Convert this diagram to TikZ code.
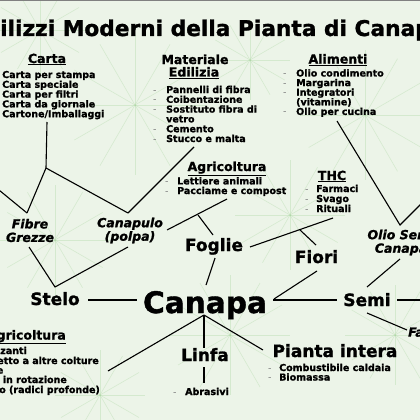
\documentclass[tikz,border=0pt]{standalone}
\usepackage{fontspec}
\setmainfont{DejaVu Sans}[BoldFeatures={FakeBold=1.3},BoldItalicFeatures={FakeBold=1.3}]
\definecolor{bgc}{RGB}{236,244,232}
\definecolor{leafc}{RGB}{170,215,160}
\begin{document}
\begin{tikzpicture}[x=1pt,y=-1pt,
  conn/.style={line width=1.1pt, black},
  item/.style={font=\fontsize{9.5}{9.8}\selectfont\bfseries, inner sep=0, anchor=base west},
  dsh/.style={font=\fontsize{9.5}{9.8}\selectfont, text=gray, inner sep=0, anchor=base west},
  head/.style={font=\fontsize{12.5}{13}\selectfont\bfseries, inner sep=0, anchor=base},
  big/.style={font=\fontsize{17}{18}\selectfont\bfseries, inner sep=0, anchor=base},
  ital/.style={font=\fontsize{12.5}{13.5}\selectfont\bfseries\itshape, inner sep=0, align=center},
  leaf/.style={leafc, line width=0.6pt, opacity=0.35}
]
\useasboundingbox (0,0) rectangle (420,420);
\clip (0,0) rectangle (420,420);
\fill[bgc] (0,0) rectangle (420,420);
% faint hemp-leaf background
\foreach \cx/\cy/\r in {135/105/70, 365/115/65, 290/215/55, 230/335/60, 55/240/55, 395/335/50, 40/30/45, 250/60/40, 100/395/45} {
  \foreach \a in {0,30,...,330} {
    \draw[leaf] (\cx,\cy) -- ++(\a:\r);
  }
}
\draw[gray, line width=1.5pt] (0,0.6) -- (420,0.6);

% title
\node[font=\fontsize{21.7}{24}\selectfont\bfseries, inner sep=0, anchor=base west] (title) at (-28,36) {Utilizzi Moderni della Pianta di Canapa};

% headers
\node[head] (carta) at (47,63) {\underline{Carta}};
\node[head] (mater) at (195,64) {Materiale};
\node[head] (edil) at (194,76.5) {\underline{Edilizia}};
\node[head] (alim) at (338,63.5) {\underline{Alimenti}};
\node[head] (agri1) at (227,171) {\underline{Agricoltura}};
\node[head] (thc) at (332,180) {\underline{THC}};
\node[head, anchor=base east] (agri2) at (66,339.5) {\underline{Agricoltura}};

% lists
\foreach \t [count=\i] in {Carta per stampa, Carta speciale, Carta per filtri, Carta da giornale, Cartone/Imballaggi} {
  \node[item] (cartai\i) at (2,{68.2+9.8*\i}) {\t};
}
\foreach \t/\d [count=\i] in {Pannelli di fibra/1, Coibentazione/1, Sostituto fibra di/1, vetro/0, Cemento/1, Stucco e malta/1} {
  \node[item] (mati\i) at (166,{83.2+9.8*\i}) {\t};
  \ifnum\d=1 \node[dsh] (matd\i) at (153,{83.2+9.8*\i}) {-}; \fi
}
\foreach \t/\d [count=\i] in {Olio condimento/1, Margarina/1, Integratori/1, {(vitamine)}/0, Olio per cucina/1} {
  \node[item] (alimi\i) at (296,{66.9+9.6*\i}) {\t};
  \ifnum\d=1 \node[dsh] (alimd\i) at (283,{66.9+9.6*\i}) {-}; \fi
}
\foreach \t [count=\i] in {Lettiere animali, Pacciame e compost} {
  \node[item] (agrii\i) at (177,{174.8+9.6*\i}) {\t};
  \node[dsh] (agrid\i) at (165,{174.8+9.6*\i}) {-};
}
\foreach \t [count=\i] in {Farmaci, Svago, Rituali} {
  \node[item] (thci\i) at (316,{182+10*\i}) {\t};
  \node[dsh] (thcd\i) at (305,{182+10*\i}) {-};
}
\foreach \t [count=\i] in {Combustibile caldaia, Biomassa} {
  \node[item] (piai\i) at (279,{361.5+9.5*\i}) {\t};
  \node[dsh] (piad\i) at (268,{361.5+9.5*\i}) {-};
}
\node[item] (abr) at (185,395) {Abrasivi};
\node[dsh] (abrd) at (173,395) {-};
\node[item, anchor=base east] (ag1) at (27,354) {Fertilizzanti};
\node[item, anchor=base east] (ag2) at (99,364) {Rispetto a altre colture};
\node[item, anchor=base east] (ag3) at (3.5,373.5) {Rinnovabile};
\node[item, anchor=base east] (ag4) at (67,383) {Coltivabile in rotazione};
\node[item, anchor=base east] (ag5) at (100,393) {Migliora il suolo (radici profonde)};

% main labels
\node[font=\fontsize{29.6}{32}\selectfont\bfseries, inner sep=0, anchor=base] (canapa) at (205,313) {Canapa};
\node[big] (stelo) at (55,305) {Stelo};
\node[big] (semi) at (367,306) {Semi};
\node[big] (foglie) at (214,251) {Foglie};
\node[big] (fiori) at (316.5,263) {Fiori};
\node[big] (linfa) at (205,361) {Linfa};
\node[big] (pianta) at (335,357) {Pianta intera};
\node[ital] (fibre) at (30,230.5) {Fibre\\Grezze};
\node[ital] (canapulo) at (130,230.5) {Canapulo\\(polpa)};
\node[ital] (olio) at (401,242.5) {Olio Semi\\Canapa};
\node[ital, anchor=west] (farina) at (408,332) {Farina};

% junction and end coordinates
\coordinate (cartaS) at (47,122);
\coordinate (j1) at (46,168);
\coordinate (fgT) at (27,213);
\coordinate (cpT) at (128,213);
\coordinate (stuccoS) at (194,147);
\coordinate (offL) at (-12,181);
\coordinate (fgB) at (29,247);
\coordinate (cpB) at (128,247);
\coordinate (vStelo) at (55,287);
\coordinate (steloR) at (88,300);
\coordinate (canL) at (137,300);
\coordinate (canR) at (273,300);
\coordinate (semiL) at (337,300);
\coordinate (semiR) at (397,300);
\coordinate (offR) at (430,300);
\coordinate (semiT) at (367,287);
\coordinate (olioB) at (400,259);
\coordinate (alimS) at (337,121);
\coordinate (vOlio) at (400,225);
\coordinate (offR2) at (440,185);
\coordinate (semiB) at (367,313);
\coordinate (farW) at (407,330);
\coordinate (canT) at (206,285);
\coordinate (fogB) at (215,258);
\coordinate (fogT) at (213,235);
\coordinate (j2) at (198,215);
\coordinate (cpR) at (167,230);
\coordinate (pacc) at (227,199);
\coordinate (fogR) at (250,247);
\coordinate (ritu) at (333,218);
\coordinate (j3) at (300,230);
\coordinate (fioT) at (316,245);
\coordinate (canR2) at (274,299);
\coordinate (fioB) at (317,271);
\coordinate (j4) at (204,315);
\coordinate (linT) at (204,348);
\coordinate (agr2E) at (108,371);
\coordinate (piaW) at (263,350);
\coordinate (linB) at (204,367);
\coordinate (abrT) at (204,383);

% connectors
\draw[conn] (cartaS) -- (j1);
\draw[conn] (j1) -- (fgT);
\draw[conn] (j1) -- (cpT);
\draw[conn] (stuccoS) -- (cpT);
\draw[conn] (offL) -- (fgT);
\draw[conn] (fgB) -- (vStelo) -- (cpB);
\draw[conn] (steloR) -- (canL);
\draw[conn] (canR) -- (semiL);
\draw[conn] (semiR) -- (offR);
\draw[conn] (semiT) -- (olioB);
\draw[conn] (alimS) -- (vOlio) -- (offR2);
\draw[conn] (semiB) -- (farW);
\draw[conn] (canT) -- (fogB);
\draw[conn] (fogT) -- (j2);
\draw[conn] (cpR) -- (pacc);
\draw[conn] (fogR) -- (ritu);
\draw[conn] (fioT) -- (j3);
\draw[conn] (canR2) -- (fioB);
\draw[conn] (j4) -- (linT);
\draw[conn] (j4) -- (agr2E);
\draw[conn] (j4) -- (piaW);
\draw[conn] (linB) -- (abrT);
\end{tikzpicture}
\end{document}
